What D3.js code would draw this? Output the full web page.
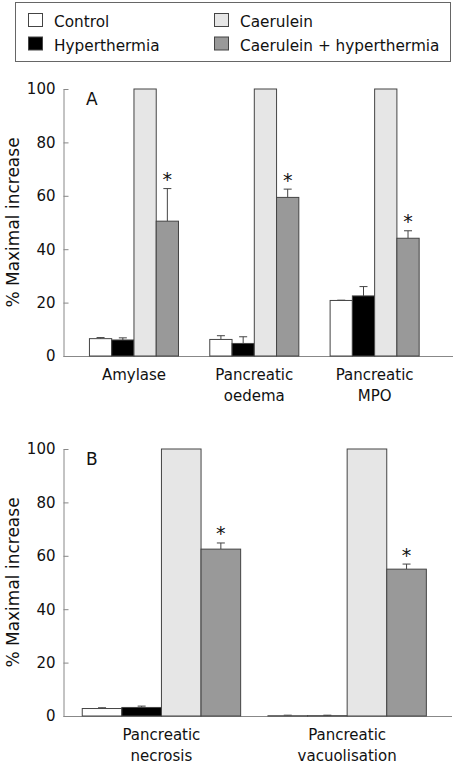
<!DOCTYPE html>
<html><head><meta charset="utf-8">
<script src="https://cdn.jsdelivr.net/npm/d3@7"></script>
<style>
html,body{margin:0;padding:0;background:#fff;}
svg{display:block;font-family:"DejaVu Sans",sans-serif;}
</style></head>
<body>
<svg id="chart" width="455" height="767"></svg>
<script>
// ---- data ----
const seriesNames = ["Control", "Hyperthermia", "Caerulein", "Caerulein + hyperthermia"];
const seriesColors = ["#ffffff", "#000000", "#e6e6e6", "#999999"];
const yTicks = [0, 20, 40, 60, 80, 100];

const categoriesA = [["Amylase"], ["Pancreatic", "oedema"], ["Pancreatic", "MPO"]];
const controlA = [6.5, 6.2, 20.8];
const controlErrA = [0.4, 1.4, 0.1];
const hyperA = [6.0, 4.7, 22.5];
const hyperErrA = [0.8, 2.5, 3.5];
const caeruleinA = [100, 100, 100];
const caeruleinErrA = [0, 0, 0];
const combinedA = [50.5, 59.4, 44.1];
const combinedErrA = [12.2, 3.1, 2.8];

const categoriesB = [["Pancreatic", "necrosis"], ["Pancreatic", "vacuolisation"]];
const controlB = [2.8, 0.1];
const controlErrB = [0.3, 0.2];
const hyperB = [3.2, 0.1];
const hyperErrB = [0.5, 0.2];
const caeruleinB = [100, 100];
const caeruleinErrB = [0, 0];
const combinedB = [62.5, 55.0];
const combinedErrB = [2.3, 1.9];
const significant = [false, false, false, true];

// ---- drawing ----
const svg = d3.select("#chart");

// legend
const lg = svg.append("g");
lg.append("rect").attr("x", 15.5).attr("y", 2.5).attr("width", 435).attr("height", 59)
  .attr("fill", "none").attr("stroke", "#666").attr("stroke-width", 1);
const legPos = [[28, 27], [28, 50.5], [214, 27], [214, 50.5]];
seriesNames.forEach((n, i) => {
  const [lx, ly] = legPos[i];
  lg.append("rect").attr("x", lx + 0.5).attr("y", ly - 13.5).attr("width", 14).attr("height", 13)
    .attr("fill", seriesColors[i]).attr("stroke", "#444");
  lg.append("text").attr("x", lx + 26).attr("y", ly).attr("font-size", 15.3).attr("fill", "#111").text(n);
});

function panel(opts) {
  const {cats, series, errs, top, bottom, xr, padIn, padOut, letter, axisEnd} = opts;
  const g = svg.append("g");
  const y = d3.scaleLinear().domain([0, 100]).range([bottom, top]);
  const x0 = d3.scaleBand().domain(cats.map((c, i) => i)).range(xr).paddingInner(padIn).paddingOuter(padOut);
  const x1 = d3.scaleBand().domain(d3.range(series.length)).range([0, x0.bandwidth()]);
  const axisX = 63.5;

  // y axis
  const ya = g.append("g").attr("transform", `translate(${axisX},0)`)
    .call(d3.axisLeft(y).tickValues(yTicks).tickSizeInner(-5).tickSizeOuter(0).tickPadding(8));
  ya.select(".domain").attr("stroke", "#888");
  ya.selectAll(".tick line").attr("stroke", "#888");
  ya.selectAll(".tick text").attr("font-size", 15).attr("fill", "#111").attr("font-family", "DejaVu Sans");

  // x axis line
  g.append("line").attr("x1", axisX).attr("x2", axisEnd).attr("y1", y(0) + 0.5).attr("y2", y(0) + 0.5)
    .attr("stroke", "#888");

  // bars
  cats.forEach((c, ci) => {
    const gg = g.append("g").attr("transform", `translate(${x0(ci)},0)`);
    series.forEach((s, si) => {
      const v = s[ci], e = errs[si][ci];
      const bx = x1(si), bw = x1.bandwidth();
      if (e > 0) {
        const cx = bx + bw / 2;
        gg.append("line").attr("x1", cx).attr("x2", cx).attr("y1", y(v)).attr("y2", y(v + e)).attr("stroke", "#444");
        gg.append("line").attr("x1", cx - 4).attr("x2", cx + 4).attr("y1", y(v + e)).attr("y2", y(v + e)).attr("stroke", "#444");
      }
      gg.append("rect").attr("x", bx).attr("y", y(v)).attr("width", bw).attr("height", y(0) - y(v))
        .attr("fill", seriesColors[si]).attr("stroke", "#444").attr("stroke-width", 1);
      if (significant[si]) {
        gg.append("text").attr("x", bx + bw / 2).attr("y", y(v + e) - 2.5)
          .attr("text-anchor", "middle").attr("font-size", 19).attr("fill", "#111").text("*");
      }
    });
    // category label
    const t = g.append("text").attr("x", x0(ci) + x0.bandwidth() / 2).attr("y", y(0) + 24)
      .attr("text-anchor", "middle").attr("font-size", 15).attr("fill", "#111");
    c.forEach((line, li) => t.append("tspan").attr("x", x0(ci) + x0.bandwidth() / 2).attr("dy", li === 0 ? 0 : 21).text(line));
  });

  // letter
  g.append("text").attr("x", 86).attr("y", top + 16).attr("font-size", 17).attr("fill", "#111").text(letter);

  // y label
  g.append("text").attr("transform", `translate(19,${(top + bottom) / 2}) rotate(-90)`)
    .attr("text-anchor", "middle").attr("font-size", 17).attr("fill", "#111").text("% Maximal increase");
}

panel({
  cats: categoriesA,
  series: [controlA, hyperA, caeruleinA, combinedA],
  errs: [controlErrA, hyperErrA, caeruleinErrA, combinedErrA],
  top: 89, bottom: 356, xr: [73.8, 434.8], padIn: 0.26, padOut: 0.13, letter: "A", axisEnd: 453
});
panel({
  cats: categoriesB,
  series: [controlB, hyperB, caeruleinB, combinedB],
  errs: [controlErrB, hyperErrB, caeruleinErrB, combinedErrB],
  top: 449, bottom: 716, xr: [68.6, 440], padIn: 0.147, padOut: 0.0735, letter: "B", axisEnd: 452
});
</script>
</body></html>
